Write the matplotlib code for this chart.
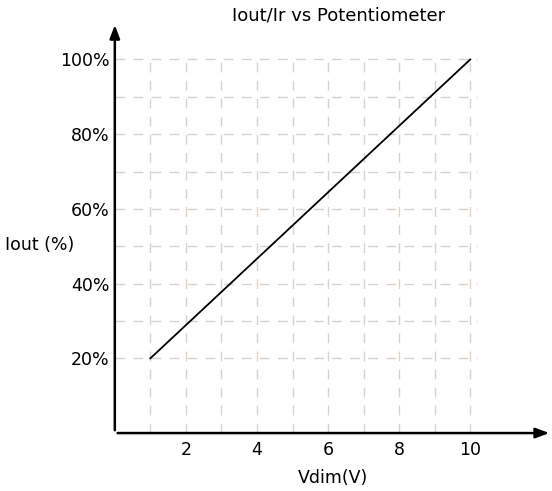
import numpy as np
import matplotlib.pyplot as plt

# 数据
vdim = [1, 10]
iout = [20, 100]
x_ticks = [2, 4, 6, 8, 10]
y_ticks = [20, 40, 60, 80, 100]
y_tick_labels = ['20%', '40%', '60%', '80%', '100%']

plt.rcParams['font.family'] = ['DejaVu Sans']

fig = plt.figure(figsize=(5.52, 4.91), dpi=100)
ax = fig.add_axes([0.208, 0.118, 0.792, 0.837])
ax.set_xlim(0, 12.3)
ax.set_ylim(0, 110)

# 网格 (虚线)
grid_color = '#d8d2ce'
for gx in range(1, 11):
    ax.plot([gx, gx], [0, 100], color=grid_color, lw=1, ls=(0, (7, 6)), zorder=1)
for gy in range(20, 101, 10):
    ax.plot([0, 10.2], [gy, gy], color=grid_color, lw=1, ls=(0, (7, 6)), zorder=1)

# 曲线
ax.plot(vdim, iout, color='black', lw=1.3, zorder=3)

# 坐标轴箭头
for s in ax.spines.values():
    s.set_visible(False)
ax.annotate('', xy=(12.3, 0), xytext=(0, 0), annotation_clip=False,
            arrowprops=dict(arrowstyle='-|>,head_length=0.8,head_width=0.3', lw=1.8, color='black'))
ax.annotate('', xy=(0, 110), xytext=(0, 0), annotation_clip=False,
            arrowprops=dict(arrowstyle='-|>,head_length=0.8,head_width=0.3', lw=1.8, color='black'))

ax.set_xticks(x_ticks)
ax.set_xticklabels([str(t) for t in x_ticks])
ax.set_yticks(y_ticks)
ax.set_yticklabels(y_tick_labels)
ax.tick_params(length=0, labelsize=12.5, pad=6)
ax.tick_params(axis='y', pad=4)

ax.set_xlabel('Vdim(V)', fontsize=12.5, labelpad=7)
fig.text(0.009, 0.5, 'Iout (%)', fontsize=12.5, ha='left', va='center')
fig.text(0.614, 0.968, 'Iout/Ir vs Potentiometer', fontsize=13, ha='center', va='center')

plt.savefig('out.png', dpi=100)
